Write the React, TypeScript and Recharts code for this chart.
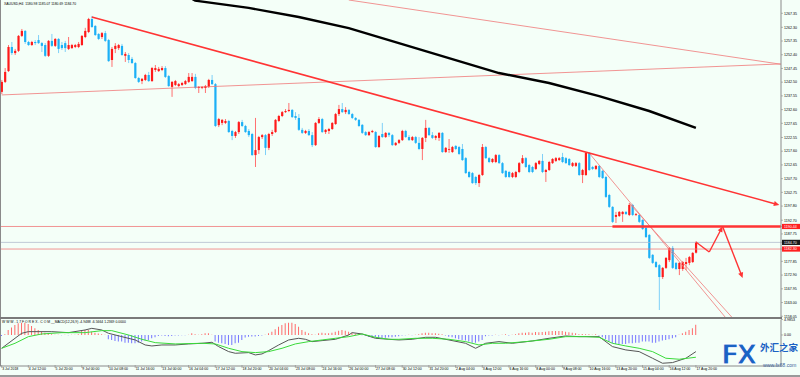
import { ComposedChart, Bar, Line, XAxis, YAxis, ReferenceLine, Cell } from "recharts";

const BG = "#f4fff8";
const UP = "#ff1a1a";
const DOWN = "#1cb0f6";
const AXIS = "#8a8a8a";
const TREND = "#ff3434";
const THIN = "#f07878";

// XAUUSD H4 candles, [open, high, low, close], bar 0 = 3 Jul 2018
const CANDLES: [number, number, number, number][] = [
  [1239.0, 1243.3, 1238.2, 1242.6], [1242.6, 1247.6, 1242.2, 1246.2], [1246.5, 1255.9, 1246.2, 1255.2], [1255.2, 1257.0, 1252.3, 1253.0],
  [1253.0, 1254.5, 1252.3, 1253.8], [1253.8, 1259.5, 1253.4, 1259.2], [1259.2, 1261.7, 1258.8, 1261.0], [1261.0, 1261.3, 1256.3, 1257.0],
  [1257.0, 1257.4, 1255.6, 1255.9], [1255.9, 1257.4, 1255.6, 1257.0], [1257.0, 1257.7, 1255.9, 1256.6], [1257.7, 1259.5, 1256.3, 1256.6],
  [1256.6, 1257.0, 1253.4, 1255.6], [1255.9, 1256.6, 1251.6, 1252.0], [1252.0, 1257.7, 1251.6, 1257.4], [1257.4, 1259.9, 1255.2, 1255.6],
  [1255.6, 1258.4, 1255.2, 1258.1], [1258.1, 1258.4, 1253.0, 1254.5], [1255.9, 1257.0, 1254.1, 1254.8], [1256.6, 1257.4, 1253.4, 1254.8],
  [1254.5, 1258.8, 1254.1, 1255.9], [1254.8, 1256.3, 1254.5, 1255.9], [1255.2, 1256.3, 1254.8, 1255.9], [1255.2, 1257.0, 1254.8, 1256.3],
  [1255.9, 1259.5, 1255.6, 1259.2], [1258.8, 1262.1, 1258.4, 1261.0], [1260.6, 1265.7, 1260.2, 1265.3], [1265.3, 1266.4, 1262.1, 1262.4],
  [1262.8, 1263.1, 1259.2, 1259.5], [1259.9, 1260.2, 1257.7, 1258.1], [1258.8, 1260.6, 1258.1, 1260.2], [1260.2, 1261.0, 1257.0, 1257.4],
  [1257.7, 1258.1, 1249.8, 1250.1], [1250.5, 1255.2, 1248.0, 1254.5], [1254.5, 1256.6, 1253.0, 1255.6], [1254.8, 1256.3, 1254.1, 1255.9],
  [1255.6, 1256.3, 1252.0, 1252.3], [1252.0, 1253.4, 1249.8, 1252.7], [1252.3, 1253.0, 1249.4, 1250.5], [1250.9, 1251.6, 1249.1, 1249.4],
  [1249.4, 1249.8, 1243.7, 1244.0], [1244.0, 1244.4, 1242.2, 1242.6], [1242.9, 1244.0, 1241.8, 1243.7], [1243.3, 1245.5, 1242.9, 1245.1],
  [1245.1, 1246.2, 1242.6, 1242.9], [1242.9, 1248.0, 1242.6, 1247.6], [1246.9, 1248.7, 1246.2, 1247.6], [1246.5, 1248.0, 1246.2, 1247.3],
  [1246.9, 1248.3, 1246.5, 1247.6], [1247.6, 1248.3, 1244.0, 1244.4], [1244.7, 1245.1, 1240.8, 1241.1], [1240.8, 1242.9, 1237.2, 1242.6],
  [1241.5, 1243.3, 1241.1, 1242.9], [1241.1, 1242.2, 1240.8, 1241.8], [1241.5, 1242.6, 1241.1, 1242.2], [1241.8, 1243.3, 1241.5, 1242.9],
  [1242.6, 1245.8, 1242.2, 1244.4], [1242.9, 1245.8, 1242.6, 1244.4], [1244.4, 1245.5, 1240.0, 1240.4], [1240.4, 1241.1, 1238.6, 1240.8],
  [1240.4, 1241.1, 1240.0, 1240.8], [1240.4, 1241.5, 1238.6, 1241.1], [1240.8, 1243.7, 1240.4, 1243.3], [1243.3, 1245.1, 1241.5, 1241.8],
  [1241.8, 1242.2, 1226.3, 1226.7], [1227.0, 1229.6, 1226.3, 1229.2], [1227.8, 1229.2, 1227.0, 1228.9], [1227.8, 1229.2, 1227.4, 1228.5],
  [1228.5, 1228.9, 1224.2, 1224.5], [1224.9, 1225.3, 1221.6, 1223.1], [1223.1, 1224.9, 1222.4, 1224.5], [1224.5, 1228.5, 1223.8, 1228.1],
  [1228.1, 1228.9, 1226.3, 1226.7], [1226.7, 1227.1, 1224.2, 1224.5], [1224.9, 1225.6, 1222.7, 1223.4], [1223.8, 1224.2, 1215.9, 1216.2],
  [1216.2, 1229.6, 1211.9, 1218.0], [1218.0, 1223.1, 1216.6, 1222.7], [1222.7, 1223.8, 1222.0, 1223.4], [1223.4, 1223.8, 1216.2, 1218.8],
  [1218.8, 1224.2, 1218.0, 1223.8], [1223.8, 1225.3, 1223.1, 1224.5], [1224.5, 1229.2, 1224.2, 1228.9], [1228.5, 1230.7, 1228.1, 1230.3],
  [1230.3, 1232.1, 1229.9, 1231.7], [1231.7, 1232.8, 1231.4, 1232.1], [1232.1, 1235.0, 1231.7, 1232.5], [1232.5, 1232.8, 1229.6, 1229.9],
  [1230.3, 1231.7, 1228.9, 1229.6], [1229.6, 1231.0, 1224.9, 1225.3], [1225.3, 1226.0, 1223.8, 1224.2], [1224.2, 1225.3, 1223.8, 1224.9],
  [1224.9, 1225.6, 1223.1, 1223.4], [1223.4, 1224.5, 1219.1, 1219.8], [1219.8, 1228.1, 1219.5, 1227.8], [1227.8, 1229.9, 1227.4, 1229.2],
  [1229.2, 1229.6, 1224.2, 1224.5], [1224.5, 1225.6, 1223.8, 1225.3], [1224.9, 1226.0, 1223.8, 1225.6], [1225.6, 1228.1, 1225.3, 1227.8],
  [1227.4, 1231.4, 1227.1, 1231.0], [1231.0, 1234.3, 1230.3, 1232.8], [1232.8, 1235.0, 1231.4, 1231.7], [1231.7, 1233.5, 1231.0, 1232.5],
  [1232.5, 1232.8, 1230.7, 1231.0], [1231.0, 1231.4, 1229.2, 1229.6], [1229.6, 1229.9, 1228.5, 1228.9], [1228.9, 1229.2, 1226.3, 1226.7],
  [1227.1, 1227.4, 1223.8, 1224.2], [1224.5, 1224.9, 1223.1, 1223.4], [1223.4, 1224.9, 1223.1, 1224.5], [1224.5, 1225.3, 1224.2, 1224.9],
  [1224.5, 1224.9, 1218.8, 1219.1], [1219.1, 1223.4, 1218.8, 1223.1], [1223.8, 1227.8, 1222.4, 1222.7], [1222.7, 1224.5, 1222.4, 1224.2],
  [1224.2, 1224.5, 1222.7, 1223.4], [1223.4, 1223.8, 1219.5, 1219.8], [1219.8, 1220.9, 1219.5, 1220.6], [1220.6, 1222.0, 1220.2, 1221.6],
  [1221.6, 1225.3, 1221.3, 1224.9], [1224.9, 1225.3, 1222.4, 1222.7], [1222.7, 1223.4, 1221.3, 1221.6], [1221.6, 1223.1, 1221.3, 1222.7],
  [1222.7, 1223.1, 1220.2, 1220.6], [1220.6, 1222.7, 1218.0, 1218.4], [1218.4, 1222.7, 1214.4, 1222.4], [1222.4, 1228.9, 1220.9, 1226.0],
  [1226.0, 1226.3, 1223.1, 1223.4], [1223.4, 1224.5, 1222.0, 1222.4], [1222.4, 1223.4, 1221.6, 1223.1], [1222.4, 1224.5, 1221.3, 1224.2],
  [1224.2, 1224.5, 1217.0, 1217.3], [1217.3, 1219.1, 1217.0, 1218.8], [1218.1, 1222.0, 1217.0, 1218.4], [1217.3, 1219.5, 1217.0, 1219.1],
  [1219.5, 1219.8, 1218.0, 1218.4], [1219.1, 1219.5, 1216.2, 1216.6], [1218.4, 1220.2, 1214.1, 1214.4], [1215.1, 1215.5, 1209.4, 1209.7],
  [1210.1, 1210.5, 1207.9, 1208.3], [1209.7, 1210.1, 1205.8, 1206.1], [1208.3, 1208.7, 1205.4, 1206.1], [1206.1, 1209.4, 1204.7, 1209.0],
  [1209.0, 1220.2, 1208.7, 1219.1], [1219.1, 1219.5, 1214.8, 1215.1], [1215.1, 1215.5, 1213.3, 1213.7], [1213.7, 1215.1, 1213.3, 1214.8],
  [1213.7, 1216.6, 1213.3, 1216.2], [1216.2, 1216.6, 1213.0, 1213.3], [1213.3, 1213.7, 1209.4, 1209.7], [1210.5, 1210.8, 1207.9, 1208.3],
  [1210.1, 1210.5, 1207.9, 1208.3], [1208.3, 1210.1, 1207.9, 1209.7], [1208.3, 1210.5, 1207.9, 1210.1], [1210.1, 1213.7, 1209.7, 1213.3],
  [1213.3, 1216.2, 1213.0, 1215.1], [1215.1, 1215.5, 1211.5, 1211.9], [1212.6, 1213.0, 1209.7, 1210.1], [1211.9, 1212.3, 1209.7, 1210.1],
  [1211.2, 1213.7, 1210.8, 1213.3], [1213.0, 1214.4, 1212.6, 1214.1], [1214.1, 1216.6, 1209.7, 1210.1], [1210.1, 1211.2, 1206.5, 1210.8],
  [1210.8, 1214.1, 1210.5, 1213.7], [1213.3, 1215.1, 1213.0, 1214.8], [1214.1, 1215.5, 1213.7, 1215.1], [1214.4, 1215.5, 1214.1, 1215.1],
  [1215.5, 1217.0, 1213.3, 1213.7], [1215.1, 1215.5, 1213.0, 1213.3], [1214.8, 1215.1, 1212.3, 1212.6], [1212.3, 1213.7, 1211.9, 1213.3],
  [1212.3, 1213.7, 1211.9, 1213.3], [1213.3, 1213.7, 1208.7, 1209.0], [1209.0, 1211.2, 1206.1, 1210.8], [1209.0, 1217.3, 1208.7, 1217.0],
  [1217.0, 1217.3, 1210.5, 1210.8], [1211.9, 1212.3, 1210.8, 1211.2], [1211.2, 1212.6, 1210.8, 1212.3], [1212.3, 1212.6, 1207.9, 1208.3],
  [1210.5, 1210.8, 1207.6, 1207.9], [1208.3, 1208.7, 1200.7, 1201.1], [1201.8, 1202.2, 1197.1, 1197.5], [1197.5, 1197.8, 1191.7, 1192.1],
  [1193.9, 1195.7, 1191.7, 1194.6], [1194.2, 1196.0, 1193.9, 1195.7], [1194.9, 1196.0, 1192.1, 1195.7], [1195.7, 1196.0, 1194.6, 1194.9],
  [1194.6, 1198.9, 1194.2, 1198.2], [1198.2, 1198.6, 1194.2, 1194.6], [1194.6, 1195.3, 1194.2, 1194.9], [1194.6, 1194.9, 1191.7, 1192.1],
  [1192.8, 1193.1, 1189.2, 1189.5], [1189.9, 1190.3, 1186.3, 1186.6], [1187.4, 1187.7, 1178.7, 1179.1], [1180.2, 1180.5, 1176.9, 1177.3],
  [1177.6, 1178.0, 1175.5, 1175.8], [1176.5, 1176.9, 1160.3, 1172.2], [1172.2, 1175.8, 1171.5, 1175.5], [1175.5, 1179.4, 1175.1, 1179.1],
  [1178.3, 1183.0, 1177.6, 1182.7], [1182.7, 1183.4, 1175.1, 1175.5], [1177.3, 1177.6, 1174.7, 1175.1], [1175.1, 1177.6, 1172.9, 1177.3],
  [1175.1, 1178.0, 1174.4, 1177.6], [1176.9, 1179.1, 1174.7, 1177.6], [1177.3, 1179.8, 1176.5, 1179.4], [1177.6, 1181.2, 1177.3, 1180.9],
  [1180.98, 1185.07, 1180.69, 1184.70],
];
const FUTURE_BARS = 25;

// moving average read at a few bars [bar, price]
const MA_POINTS: [number, number][] = [
  [57, 1272.6], [58, 1271.9], [74, 1269.3], [89, 1266.0], [104, 1262.0], [119, 1256.6],
  [134, 1251.2], [149, 1245.8], [164, 1242.2], [179, 1237.5], [194, 1232.1], [208, 1226.0],
];

const HIST = [
  -0.3, 0.2, 1.6, 2.4, 3.2, 3.75, 3.97, 3.97, 3.54, 2.89,
  2.14, 1.61, 1.07, 0.75, 0.54, 0.21, 0.1, 0.1, -0.1, 0.1,
  -0.1, 0.1, 0.1, 0.2, 1.39, 1.61, 1.61, 1.07, 0.75, 0.5,
  0.2, 0.1, -1.39, -1.61, -1.93, -2.14, -2.14, -2.47, -2.47, -2.68,
  -2.68, -2.47, -2.14, -1.82, -1.61, -1.07, -0.75, -0.3, -0.2, -0.3,
  -0.4, -0.3, -0.2, -0.2, -0.1, -0.1, 0.1, 0.54, 0.2, 0.1,
  0.2, 0.54, 0.54, 0.1, -2.14, -2.47, -2.68, -2.89, -3.22, -3.22,
  -2.68, -2.47, -1.61, -0.8, -0.6, -0.5, -0.5, -0.3, -0.2, 0.1,
  0.54, 1.07, 1.82, 2.68, 3.22, 3.75, 3.97, 3.97, 3.54, 2.68,
  1.61, 1.07, 0.54, 0.21, 0.1, 0.54, 0.7, 0.54, 0.54, 0.7,
  1.07, 1.39, 1.61, 1.39, 1.07, 0.75, 0.4, 0.2, -0.1, -0.2,
  -0.54, -0.75, -0.75, -0.9, -1.07, -0.9, -0.75, -0.75, -0.54, -0.4,
  -0.2, -0.1, 0.1, -0.1, 0.1, 0.2, 0.54, 0.75, 0.75, 0.54,
  0.54, 0.4, 0.2, -0.2, -0.54, -0.75, -1.07, -1.39, -1.61, -1.82,
  -2.14, -2.47, -2.47, -2.14, -1.61, -0.4, -0.2, -0.2, 0.1, -0.1,
  0.1, 0.2, -0.2, 0.1, 0.2, 0.54, 0.75, 0.75, 0.86, 0.75,
  0.96, 0.86, 0.96, 1.07, 1.18, 1.29, 1.29, 1.29, 1.29, 1.07,
  0.86, 0.75, 0.54, 0.2, 0.3, 0.2, 0.2, 0.1, 0.2, -0.2,
  -0.75, -1.39, -2.14, -2.68, -2.89, -3.0, -2.89, -2.89, -2.68, -2.68,
  -2.47, -2.47, -2.14, -2.14, -2.14, -2.47, -2.47, -2.14, -1.82, -1.61,
  -1.39, -1.07, -0.75, 0.1, 0.54, 1.07, 1.61, 2.14, 3.3,
];

const MACD_POINTS: [number, number][] = [
  [0, -4.29], [6, 0.54], [8, 1.07], [15, 1.07], [20, 0.75], [25, 1.61], [27, 2.14], [30, 1.61],
  [32, 0.54], [36, -0.54], [40, -1.61], [43, -3.22], [45, -3.54], [48, -3.22], [52, -3.22], [56, -2.89],
  [60, -2.68], [63, -2.36], [65, -3.75], [68, -5.36], [70, -5.9], [74, -5.68], [76, -6.43], [78, -6.11],
  [80, -5.04], [83, -3.22], [86, -1.61], [89, -1.07], [91, -1.39], [93, -2.14], [96, -1.82], [100, -1.39],
  [104, 0], [105, 0.75], [108, 0.32], [112, -1.07], [116, -1.39], [119, -1.61], [123, -1.39], [127, -0.75],
  [130, -0.75], [134, -1.61], [139, -2.68], [142, -4.29], [145, -2.68], [149, -2.14], [153, -2.68], [159, -1.93],
  [164, -1.07], [169, -0.32], [173, -0.54], [179, -0.54], [183, -3.75], [187, -4.82], [191, -5.36], [195, -7.5],
  [198, -9.11], [201, -8.9], [205, -7.5], [208, -5.36],
];

const SIGNAL_POINTS: [number, number][] = [
  [0, -4.29], [4, -2.68], [8, -0.54], [12, 0.32], [18, 0.75], [25, 0.75], [30, 1.39], [33, 1.39],
  [38, 0], [42, -1.39], [46, -2.47], [52, -2.89], [60, -2.68], [64, -2.89], [68, -4.29], [72, -5.36],
  [76, -5.68], [80, -5.36], [84, -4.29], [88, -2.89], [92, -2.14], [96, -1.61], [100, -1.07], [104, -0.54],
  [108, 0.32], [112, -0.75], [116, -1.39], [119, -1.39], [124, -1.07], [129, -1.07], [134, -1.39], [139, -2.14],
  [143, -3.22], [147, -2.68], [151, -2.68], [157, -2.14], [164, -1.39], [169, -0.54], [175, -0.54], [179, -0.75],
  [183, -2.68], [187, -3.54], [191, -4.29], [195, -5.36], [199, -7.5], [203, -7.82], [208, -7.18],
];

const PRICE_TICKS = [
  1267.35, 1262.3, 1257.35, 1252.4, 1247.45, 1242.5, 1237.55, 1232.6, 1227.65, 1222.55, 1217.6,
  1212.65, 1207.7, 1202.75, 1197.8, 1192.7, 1187.75, 1177.85, 1172.9, 1167.95, 1163.0, 1158.05,
];
const RESIST = 1190.44;
const BID = 1184.7;
const SUPPORT = 1182.3;
const MARKED: Record<string, string> = { "1190.44": "#ff2020", "1184.70": "#1a1a1a", "1182.30": "#ff2020" };

const DATE_LABELS = [
  "3 Jul 2018", "4 Jul 12:00", "5 Jul 20:00", "9 Jul 00:00", "10 Jul 08:00", "11 Jul 16:00", "13 Jul 00:00",
  "16 Jul 04:00", "17 Jul 12:00", "18 Jul 20:00", "20 Jul 04:00", "23 Jul 08:00", "24 Jul 16:00", "26 Jul 00:00",
  "27 Jul 08:00", "30 Jul 12:00", "31 Jul 20:00", "2 Aug 04:00", "3 Aug 12:00", "6 Aug 16:00", "8 Aug 00:00",
  "9 Aug 08:00", "10 Aug 16:00", "13 Aug 20:00", "15 Aug 04:00", "16 Aug 12:00", "17 Aug 20:00",
];
const LABEL_STEP = 8;

const rows = Array.from({ length: CANDLES.length + FUTURE_BARS }, (_, i) => {
  const k = CANDLES[i];
  const ma = MA_POINTS.find((p) => p[0] === i);
  const m = MACD_POINTS.find((p) => p[0] === i);
  const s = SIGNAL_POINTS.find((p) => p[0] === i);
  return {
    i,
    o: k ? k[0] : null,
    h: k ? k[1] : null,
    l: k ? k[2] : null,
    c: k ? k[3] : null,
    ma: ma ? ma[1] : null,
    hist: i < HIST.length ? HIST[i] : null,
    macd: m ? m[1] : null,
    signal: s ? s[1] : null,
  };
});
const LAST = rows.length - 1;
const tickIdx = DATE_LABELS.map((_, n) => n * LABEL_STEP);

const FONT = "Liberation Sans, Arial, sans-serif";

function Candle(props: any) {
  const { x, y, width, height, payload } = props;
  if (payload.o == null) return null;
  const top = Math.min(y, y + height);
  const hgt = Math.abs(height);
  const { o, h, l, c } = payload;
  const k = h === l ? 0 : hgt / (h - l);
  const yo = top + (h - o) * k;
  const yc = top + (h - c) * k;
  const up = c >= o;
  const cx = x + width / 2;
  return (
    <g>
      <line x1={cx} x2={cx} y1={top} y2={top + hgt} stroke={up ? "#ff7070" : "#7fd0f8"} strokeWidth={1} />
      <rect x={cx - 1.1} y={Math.min(yo, yc)} width={2.2} height={Math.max(Math.abs(yc - yo), 0.8)} fill={up ? UP : DOWN} />
    </g>
  );
}

const seg = (opt: { w: number; color: string; arrow?: boolean; extend?: number }) => (p: any) => {
  const { x1, y1, x2, y2 } = p;
  const ex = opt.extend || 0;
  const dx = x2 - x1, dy = y2 - y1;
  const len = Math.hypot(dx, dy) || 1;
  const ux = dx / len, uy = dy / len;
  const hx = x2 + ux * ex, hy = y2 + uy * ex;
  let head = null;
  if (opt.arrow) {
    const s = 5.5, wdt = 2.6;
    const bx = hx - ux * s, by = hy - uy * s;
    head = (
      <polygon
        points={`${hx},${hy} ${bx - uy * wdt},${by + ux * wdt} ${bx + uy * wdt},${by - ux * wdt}`}
        fill={opt.color}
      />
    );
  }
  return (
    <g>
      <line x1={x1} y1={y1} x2={opt.arrow ? hx - ux * 4 : hx} y2={opt.arrow ? hy - uy * 4 : hy} stroke={opt.color} strokeWidth={opt.w} />
      {head}
    </g>
  );
};

function PriceTick(props: any) {
  const { x, y, payload } = props;
  const txt = Number(payload.value).toFixed(2);
  const bg = MARKED[txt];
  if (bg) {
    return (
      <g>
        <rect x={x - 2} y={y - 2.6} width={20} height={5.2} fill={bg} />
        <text x={x} y={y} dy={1.3} fontSize={3.6} fontFamily={FONT} fill="#ffffff">{txt}</text>
      </g>
    );
  }
  return (
    <text x={x} y={y} dy={1.3} fontSize={3.6} fontFamily={FONT} fill="#000">{txt}</text>
  );
}

function MacdTick(props: any) {
  const { x, y, payload } = props;
  const v = Number(payload.value);
  const txt = v === 0 ? "0.00" : v.toFixed(4);
  return <text x={x} y={y} dy={1.3} fontSize={3.6} fontFamily={FONT} fill="#000">{txt}</text>;
}

function DateTick(props: any) {
  const { x, y, payload } = props;
  const n = Math.round(payload.value / LABEL_STEP);
  return (
    <g>
      <line x1={x} x2={x} y1={y - 1} y2={y + 2} stroke={AXIS} strokeWidth={0.6} />
      <text x={x + 0.5} y={y + 4.2} fontSize={3.5} fontFamily={FONT} fill="#000">{DATE_LABELS[n]}</text>
    </g>
  );
}

export default function App() {
  return (
    <div style={{ position: "absolute", left: 0, top: 0, width: 800, height: 377, background: BG, overflow: "hidden" }}>
      <ComposedChart width={800} height={318} data={rows} margin={{ top: 0, right: 0, bottom: 0, left: 0 }}>
        <XAxis dataKey="i" type="category" hide />
        <YAxis
          orientation="right"
          width={19}
          domain={[1157.42, 1272.15]}
          allowDataOverflow
          ticks={[...PRICE_TICKS, RESIST, BID, SUPPORT]}
          interval={0}
          tick={<PriceTick />}
          tickSize={2}
          tickMargin={1}
          tickLine={{ stroke: AXIS, strokeWidth: 0.6 }}
          axisLine={{ stroke: AXIS, strokeWidth: 1 }}
        />
        <ReferenceLine y={RESIST} stroke={THIN} strokeWidth={0.8} ifOverflow="visible" />
        <ReferenceLine y={BID} stroke="#b3bccd" strokeWidth={0.8} ifOverflow="visible" />
        <ReferenceLine y={SUPPORT} stroke={THIN} strokeWidth={0.8} ifOverflow="visible" />
        <ReferenceLine
          segment={[{ x: 0, y: 1237.9 }, { x: LAST, y: 1249.06 }]}
          shape={seg({ w: 0.8, color: THIN, extend: 1.5 })}
          ifOverflow="visible"
        />
        <ReferenceLine
          segment={[{ x: 104, y: 1272.15 }, { x: LAST, y: 1249.06 }]}
          shape={seg({ w: 0.8, color: THIN, extend: 1.5 })}
          ifOverflow="visible"
        />
        <ReferenceLine
          segment={[{ x: 176, y: 1216.96 }, { x: 217, y: 1157.42 }]}
          shape={seg({ w: 0.8, color: THIN })}
          ifOverflow="visible"
        />
        <ReferenceLine
          segment={[{ x: 188, y: 1198.9 }, { x: 219, y: 1157.42 }]}
          shape={seg({ w: 0.8, color: THIN })}
          ifOverflow="visible"
        />
        <ReferenceLine
          segment={[{ x: 183, y: RESIST }, { x: LAST, y: RESIST }]}
          shape={seg({ w: 2.6, color: TREND, extend: 1.5 })}
          ifOverflow="visible"
        />
        <Bar dataKey={(d: any) => (d.o == null ? null : [d.l, d.h])} shape={<Candle />} isAnimationActive={false} />
        <Line
          dataKey="ma"
          stroke="#000"
          strokeWidth={2.4}
          dot={false}
          connectNulls
          isAnimationActive={false}
        />
        <ReferenceLine
          segment={[{ x: 27, y: 1266.0 }, { x: LAST, y: 1198.2 }]}
          shape={seg({ w: 1.6, color: TREND, arrow: true })}
          ifOverflow="visible"
        />
        <ReferenceLine
          segment={[{ x: 208, y: 1184.84 }, { x: 212, y: 1181.23 }]}
          shape={seg({ w: 1.4, color: TREND })}
          ifOverflow="visible"
        />
        <ReferenceLine
          segment={[{ x: 212, y: 1181.23 }, { x: 216, y: RESIST }]}
          shape={seg({ w: 1.4, color: TREND, arrow: true })}
          ifOverflow="visible"
        />
        <ReferenceLine
          segment={[{ x: 216, y: RESIST }, { x: 222, y: 1171.85 }]}
          shape={seg({ w: 1.4, color: TREND, arrow: true })}
          ifOverflow="visible"
        />
      </ComposedChart>
      <ComposedChart width={800} height={59} data={rows} margin={{ top: 1.5, right: 0, bottom: 0, left: 0 }} barGap={0}>
        <XAxis
          dataKey="i"
          type="category"
          height={11}
          ticks={tickIdx}
          interval={0}
          tick={<DateTick />}
          tickLine={false}
          tickSize={0}
          tickMargin={0}
          axisLine={{ stroke: AXIS, strokeWidth: 1 }}
        />
        <YAxis
          orientation="right"
          width={19}
          domain={[-10.0, 4.9853]}
          allowDataOverflow
          ticks={[4.9853, 0]}
          interval={0}
          tick={<MacdTick />}
          tickSize={2}
          tickMargin={1}
          tickLine={{ stroke: AXIS, strokeWidth: 0.6 }}
          axisLine={{ stroke: AXIS, strokeWidth: 1 }}
        />
        <Bar dataKey="hist" barSize={1} isAnimationActive={false}>
          {rows.map((r) => (
            <Cell key={r.i} fill={(r.hist || 0) >= 0 ? "#ff6a6a" : "#7474ff"} />
          ))}
        </Bar>
        <Line dataKey="macd" stroke="#555" strokeWidth={1} dot={false} connectNulls isAnimationActive={false} />
        <Line dataKey="signal" stroke="#3ada3a" strokeWidth={1} dot={false} connectNulls isAnimationActive={false} />
      </ComposedChart>
      <div style={{ position: "absolute", left: 0, top: 0, width: 1, height: 366, background: AXIS }} />
      <div style={{ position: "absolute", left: 0, top: 317, width: 782, height: 2, background: "#7a7a7a" }} />
      <div style={{ position: "absolute", left: 0, top: 375, width: 800, height: 2, background: "#9a9a9a" }} />
      <div style={{ position: "absolute", left: 4, top: 2, fontSize: 3.4, fontFamily: FONT, color: "#000", whiteSpace: "pre" }}>
        {"XAUUSD,H4  1180.98 1185.07 1180.69 1184.70"}
      </div>
      <div style={{ position: "absolute", left: 2, top: 320, fontSize: 3.4, fontFamily: FONT, color: "#000", whiteSpace: "pre" }}>
        {"W W W . 1 7 F O R E X . C O M __MACD(12,26,9) -4.9488 -6.5664 1.2369 0.0000"}
      </div>
      <div style={{ position: "absolute", left: 721, top: 337, width: 79, height: 38 }}>
        <div style={{ position: "absolute", left: 0, top: 0, fontSize: 27, fontWeight: 900, fontFamily: "DejaVu Sans", color: "#1b62c4", letterSpacing: -3, lineHeight: "36px", WebkitTextStroke: "1px #ffffff" }}>FX</div>
        <div style={{ position: "absolute", left: 39, top: 4, fontSize: 9.5, fontWeight: 700, fontFamily: "Noto Sans CJK SC", color: "#1b62c4", lineHeight: "12px", whiteSpace: "nowrap" }}>外汇之家</div>
        <div style={{ position: "absolute", left: 42, top: 25, fontSize: 5.2, fontFamily: FONT, color: "#3b5f9a", whiteSpace: "nowrap", lineHeight: "7px" }}>www.fx68.com</div>
      </div>
    </div>
  );
}
